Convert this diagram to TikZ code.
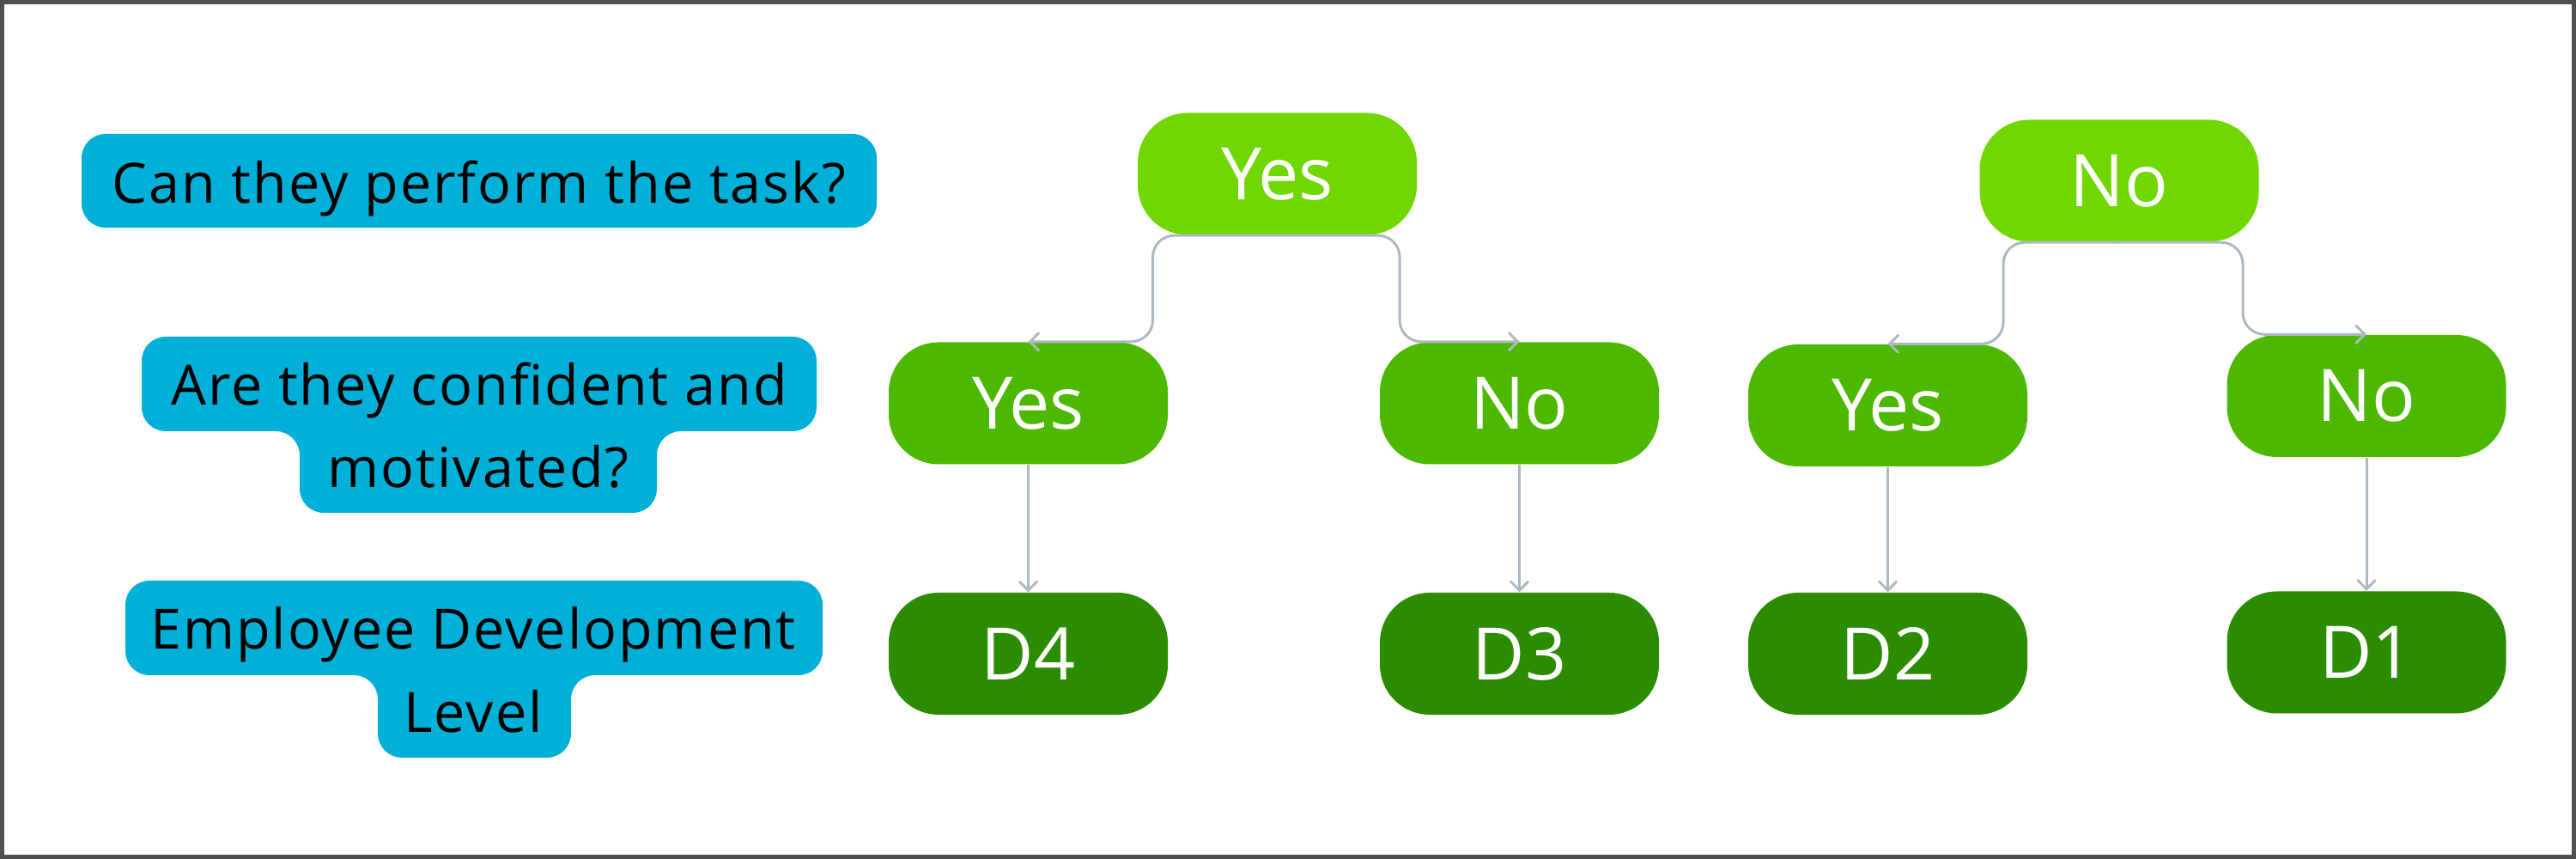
\documentclass[tikz,border=0pt]{standalone}
\usepackage{fontspec}
\setmainfont{Open Sans}
\newfontfamily\qfont[LetterSpace=3]{Open Sans}
\usetikzlibrary{arrows.meta}
\definecolor{qblue}{HTML}{00B0D8}
\definecolor{lime}{HTML}{70D700}
\definecolor{midgreen}{HTML}{4CB800}
\definecolor{darkgreen}{HTML}{2B8C00}
\definecolor{connc}{HTML}{AEB8C2}
\definecolor{framec}{HTML}{505050}
\tikzset{
  answer/.style={minimum width=3.25cm, minimum height=1.42cm, rounded corners=0.58cm,
    inner sep=0pt, text=white, font=\fontsize{24}{28}\selectfont},
  question/.style={anchor=base, inner sep=0pt, font=\qfont\fontsize{18.4}{22}\selectfont},
  conn/.style={draw=connc, line width=0.85pt, rounded corners=0.25cm,
    -{Straight Barb[length=1mm,width=2mm,line cap=round]}}
}
\begin{document}
\begin{tikzpicture}
      \useasboundingbox (0,0) rectangle (30,10);
      \draw[framec, line width=0.05cm] (0.025,0.025) rectangle (29.975,9.975);
      % question labels
      \fill[qblue, rounded corners=0.28cm] (0.95,7.35) rectangle (10.21,8.44);
      \fill[qblue, rounded corners=0.28cm] (5.58,6.08) -- (9.51,6.08) -- (9.51,4.98)
        -- (7.65,4.98) -- (7.65,4.03) -- (3.49,4.03) -- (3.49,4.98) -- (1.65,4.98)
        -- (1.65,6.08) -- cycle;
      \fill[qblue, rounded corners=0.28cm] (5.52,3.24) -- (9.58,3.24) -- (9.58,2.14)
        -- (6.65,2.14) -- (6.65,1.18) -- (4.40,1.18) -- (4.40,2.14) -- (1.46,2.14)
        -- (1.46,3.24) -- cycle;
      \draw
        (5.58,7.63) node[question] (task){Can they perform the task?}
        (5.58,5.28) node[question] (conf){Are they confident and}
        (5.57,4.32) node[question] (motiv){motivated?}
        (5.51,2.44) node[question] (level){Employee Development}
        (5.51,1.47) node[question] (levelb){Level};
      % answers
      \draw
        (14.875,7.975) node[answer, fill=lime] (ytop){Yes}
        (24.68,7.895) node[answer, fill=lime] (ntop){No}
        (11.975,5.305) node[answer, fill=midgreen] (yy){Yes}
        (17.695,5.305) node[answer, fill=midgreen] (yn){No}
        (21.985,5.28) node[answer, fill=midgreen] (ny){Yes}
        (27.56,5.39) node[answer, fill=midgreen] (nn){No}
        (11.975,2.39) node[answer, fill=darkgreen] (d4){D4}
        (17.695,2.39) node[answer, fill=darkgreen] (d3){D3}
        (21.985,2.39) node[answer, fill=darkgreen] (d2){D2}
        (27.56,2.405) node[answer, fill=darkgreen] (d1){D1};
      \begin{scope}[conn]
        \draw (ytop.south) -- ++(-1.45,0) |- (yy.north);
        \draw (ytop.south) -- ++(1.425,0) |- (yn.north);
        \draw (ntop.south) -- ++(-1.35,0) |- (ny.north);
        \draw (ntop.south) -- ++(1.44,0) |- (nn.north);
        \draw (yy) to (d4);
        \draw (yn) to (d3);
        \draw (ny) to (d2);
        \draw (nn) to (d1);
      \end{scope}
    \end{tikzpicture}
\end{document}
